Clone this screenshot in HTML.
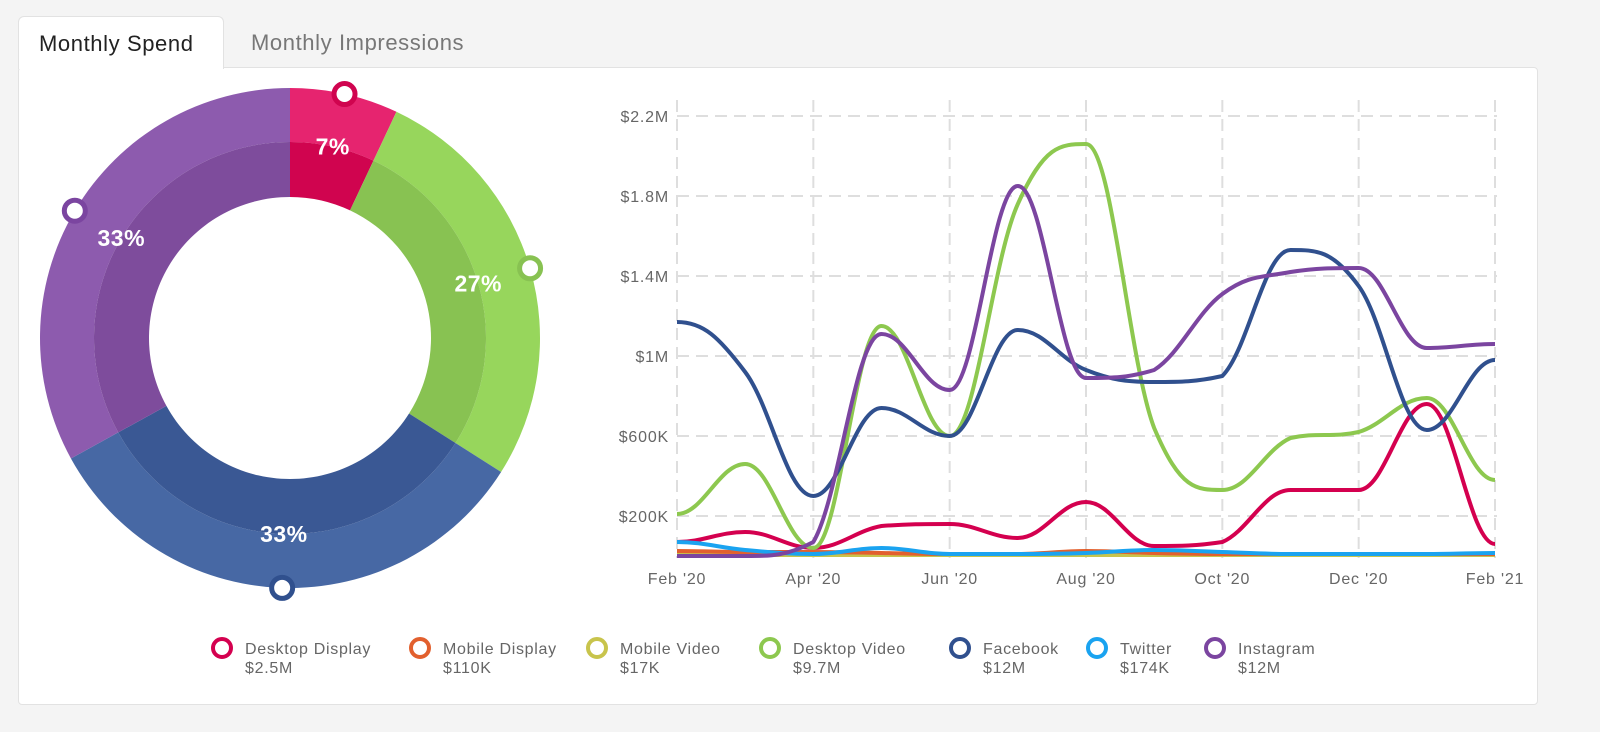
<!DOCTYPE html>
<html><head><meta charset="utf-8">
<style>
body{margin:0;width:1600px;height:732px;background:#f4f4f4;font-family:"Liberation Sans",sans-serif;overflow:hidden;position:relative}
.card{position:absolute;left:18px;top:67px;width:1518px;height:636px;background:#fff;border:1px solid #e2e2e2;border-radius:4px}
.tab{position:absolute;top:16px;height:52px;font-size:22px;letter-spacing:0.6px;line-height:54px;padding:0 20px}
.tab.active{left:18px;width:164px;background:#fff;border:1px solid #e2e2e2;border-bottom:none;border-radius:6px 6px 0 0;color:#222;z-index:2;white-space:nowrap}
.tab.inactive{left:231px;color:#777}
svg{position:absolute;left:0;top:0}
</style></head><body>
<div class="tab active">Monthly Spend</div>
<div class="tab inactive">Monthly Impressions</div>
<div class="card"></div>
<svg id="s" width="1600" height="732"></svg>
<script>
const seriesNames=["Desktop Display","Mobile Display","Mobile Video","Desktop Video","Facebook","Twitter","Instagram"];
const seriesTotals=["$2.5M","$110K","$17K","$9.7M","$12M","$174K","$12M"];
const seriesColors=["#d4004f","#e2602e","#c8c44c","#8dc84f","#30508e","#1aa3f0","#7b45a0"];
const months=["Feb '20","Mar '20","Apr '20","May '20","Jun '20","Jul '20","Aug '20","Sep '20","Oct '20","Nov '20","Dec '20","Jan '21","Feb '21"];
const desktopDisplay=[70,120,40,150,160,90,270,50,70,330,330,760,60];
const mobileDisplay=[25,20,20,15,10,10,25,15,10,10,10,10,10];
const mobileVideo=[5,5,5,5,5,5,5,5,5,5,5,5,5];
const desktopVideo=[210,460,40,1150,600,1760,2060,640,330,590,620,790,380];
const facebook=[1170,920,300,740,600,1130,930,870,900,1530,1350,630,980];
const twitter=[70,30,10,40,10,10,15,30,20,10,10,10,15];
const instagram=[0,0,70,1110,830,1850,890,930,1310,1420,1440,1040,1060];
const yTicks=[200,600,1000,1400,1800,2200];
const yTickLabels=["$200K","$600K","$1M","$1.4M","$1.8M","$2.2M"];
const xTickIdx=[0,2,4,6,8,10,12];
const donutShares=[7,27,33,33];
const donutLabels=["7%","27%","33%","33%"];
const donutOuter=["#e6246f","#97d65c","#4768a4","#8d5bae"];
const donutInner=["#d0044f","#88c252","#3a5894","#7e4c9c"];
const donutMarker=["#d0044f","#88c252","#30508e","#7b45a0"];

const S=document.getElementById('s');const NS="http://www.w3.org/2000/svg";
function mk(t,a,p){const e=document.createElementNS(NS,t);for(const k in a)e.setAttribute(k,a[k]);(p||S).appendChild(e);return e;}
const x=i=>677+i*(1495-677)/12;
const y=v=>556-v*0.2;
const grid=mk('g',{});

yTicks.forEach((t,i)=>{
 const l=mk('line',{x1:677,x2:1497,y1:y(t),y2:y(t),stroke:'#dedede','stroke-width':2,'stroke-dasharray':'12,7'},grid);
 
 const tx=mk('text',{x:669,y:y(t)+6,'text-anchor':'end','font-size':16,'letter-spacing':'0.8',fill:'#666'});
 
 tx.textContent=yTickLabels[i];
});
xTickIdx.forEach(i=>{
 const l=mk('line',{x1:x(i),x2:x(i),y1:100,y2:558,stroke:'#dedede','stroke-width':2,'stroke-dasharray':'12,7'},grid);
 
 const tx=mk('text',{x:x(i),y:584,'text-anchor':'middle','font-size':16,'letter-spacing':'0.8',fill:'#666'});
 
 tx.textContent=months[i];
});
function clamp(v,a,b){const lo=Math.min(a,b),hi=Math.max(a,b);return Math.max(lo,Math.min(hi,v));}
function spline(vals){
 const p=vals.map((v,i)=>[x(i),y(v)]);let d="M"+p[0][0]+","+p[0][1];
 for(let i=0;i<p.length-1;i++){
  const p0=p[i-1]||p[i],p1=p[i],p2=p[i+1],p3=p[i+2]||p2,k=5;
  let c1y=p1[1]+(p2[1]-p0[1])/k, c2y=p2[1]-(p3[1]-p1[1])/k;
  if((p1[1]-p0[1])*(p2[1]-p1[1])<=0) c1y=p1[1];
  if((p2[1]-p1[1])*(p3[1]-p2[1])<=0) c2y=p2[1];
  c1y=clamp(c1y,p1[1],p2[1]);c2y=clamp(c2y,p1[1],p2[1]);
  d+=" C"+(p1[0]+(p2[0]-p1[0])/2.6)+","+c1y+" "+(p2[0]-(p2[0]-p1[0])/2.6)+","+c2y+" "+p2[0]+","+p2[1];
 }
 return d;
}
const allSeries=[desktopDisplay,mobileDisplay,mobileVideo,desktopVideo,facebook,twitter,instagram];
const order=[2,1,0,3,4,5,6];
order.forEach(si=>{
 const pth=mk('path',{d:spline(allSeries[si]),fill:'none',stroke:seriesColors[si],'stroke-width':4,'stroke-linejoin':'round'});
 
 
});
const cx=290,cy=338,R=250,Rm=196,Ri=141;
function pt(r,a){return[cx+r*Math.sin(a),cy-r*Math.cos(a)];}
function arc(r1,r2,a1,a2){const l=(a2-a1)>Math.PI?1:0;const A=pt(r2,a1),B=pt(r2,a2),C=pt(r1,a2),D=pt(r1,a1);
 return `M${A}A${r2},${r2} 0 ${l} 1 ${B}L${C}A${r1},${r1} 0 ${l} 0 ${D}Z`;}
const tot=donutShares.reduce((a,b)=>a+b,0);let acc=0;
donutShares.forEach((s,i)=>{
 const a1=acc/tot*2*Math.PI;acc+=s;const a2=acc/tot*2*Math.PI;
 const o=mk('path',{d:arc(Rm,R,a1,a2),fill:donutOuter[i]});
 
 const n=mk('path',{d:arc(Ri,Rm,a1,a2),fill:donutInner[i]});
 
});
acc=0;
donutShares.forEach((s,i)=>{
 const a1=acc/tot*2*Math.PI;acc+=s;const a2=acc/tot*2*Math.PI;const am=(a1+a2)/2;
 const lp=pt(196,am);
 const t=mk('text',{x:lp[0],y:lp[1]+8,'text-anchor':'middle','font-size':23,'font-weight':'bold','letter-spacing':'0.5',fill:'#fff'});
 
 t.textContent=donutLabels[i];
 const mp=pt(250,am);
 const c=mk('circle',{cx:mp[0],cy:mp[1],r:10.5,fill:'#fff',stroke:donutMarker[i],'stroke-width':5});
 
});
const legCircleX=[222,420,597,770,960,1097,1215];
seriesNames.forEach((nm,i)=>{
 const g=mk('g',{});
 
 mk('circle',{cx:legCircleX[i],cy:648,r:9,fill:'#fff',stroke:seriesColors[i],'stroke-width':4},g);
 const t1=mk('text',{x:legCircleX[i]+23,y:654,'font-size':16,'letter-spacing':'0.7',fill:'#666'},g);t1.textContent=nm;
 const t2=mk('text',{x:legCircleX[i]+23,y:673,'font-size':16,'letter-spacing':'0.7',fill:'#666'},g);t2.textContent=seriesTotals[i];
});
</script>
</body></html>
